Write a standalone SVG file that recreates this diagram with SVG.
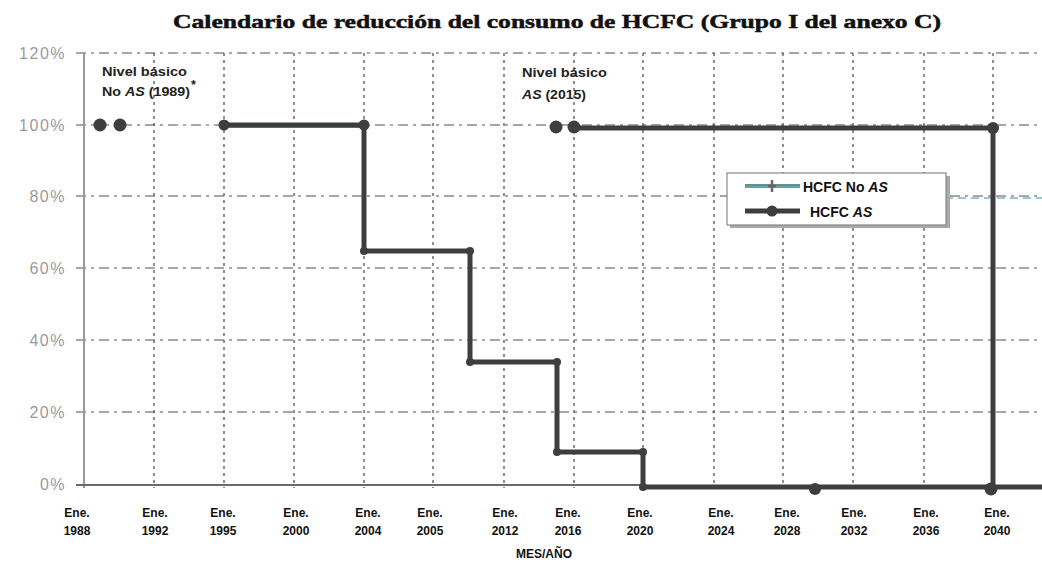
<svg xmlns="http://www.w3.org/2000/svg" width="1042" height="562" viewBox="0 0 1042 562">
<style>
.title{font-family:"Liberation Serif","Times New Roman",serif;font-weight:bold;font-size:19px;fill:#111;stroke:#111;stroke-width:0.5}
.ylab{font-family:"Liberation Sans",Arial,sans-serif;font-size:16px;fill:#9a9a9a;text-anchor:end;letter-spacing:1.5px}
.xlab{font-family:"Liberation Sans",Arial,sans-serif;font-weight:bold;font-size:12px;fill:#111;text-anchor:middle}
.note{font-family:"Liberation Sans",Arial,sans-serif;font-weight:bold;font-size:12.5px;fill:#222}
.leg{font-family:"Liberation Sans",Arial,sans-serif;font-weight:bold;font-size:14px;fill:#111}
.hgrid{stroke:#8a8a8a;stroke-width:1.5;stroke-dasharray:10 5 3 5;fill:none}
.vgrid{stroke:#555;stroke-width:1.3;stroke-dasharray:3 4;fill:none}
.series{stroke:#3e3e3e;stroke-width:5;fill:none;stroke-linejoin:miter}
.mk{fill:#3e3e3e}
</style>
<rect width="1042" height="562" fill="#ffffff"/>
<g id="title"><text class="title" x="557" y="28" text-anchor="middle" textLength="768" lengthAdjust="spacingAndGlyphs">Calendario de reducción del consumo de HCFC (Grupo I del anexo C)</text></g>
<g id="grid">
<line class="hgrid" x1="76" y1="53" x2="1042" y2="53"/>
<line class="hgrid" x1="76" y1="125" x2="1042" y2="125"/>
<line class="hgrid" x1="76" y1="196" x2="1042" y2="196"/>
<line class="hgrid" x1="76" y1="268" x2="1042" y2="268"/>
<line class="hgrid" x1="76" y1="340" x2="1042" y2="340"/>
<line class="hgrid" x1="76" y1="412" x2="1042" y2="412"/>
<line x1="945" y1="198" x2="1042" y2="198" stroke="#7ab6cf" stroke-width="1.5" stroke-dasharray="8 5"/>
<line class="vgrid" x1="154" y1="53" x2="154" y2="488"/>
<line class="vgrid" x1="224" y1="53" x2="224" y2="488"/>
<line class="vgrid" x1="294" y1="53" x2="294" y2="488"/>
<line class="vgrid" x1="364" y1="53" x2="364" y2="488"/>
<line class="vgrid" x1="433" y1="53" x2="433" y2="488"/>
<line class="vgrid" x1="504" y1="53" x2="504" y2="488"/>
<line class="vgrid" x1="574" y1="53" x2="574" y2="488"/>
<line class="vgrid" x1="643" y1="53" x2="643" y2="488"/>
<line class="vgrid" x1="714" y1="53" x2="714" y2="488"/>
<line class="vgrid" x1="783" y1="53" x2="783" y2="488"/>
<line class="vgrid" x1="853" y1="53" x2="853" y2="488"/>
<line class="vgrid" x1="924" y1="53" x2="924" y2="488"/>
<line class="vgrid" x1="993" y1="53" x2="993" y2="488"/>
<line x1="84" y1="53" x2="84" y2="488" stroke="#999" stroke-width="2"/>
<line x1="76" y1="485" x2="643" y2="485" stroke="#6a6a6a" stroke-width="2"/>
</g>
<g id="y-labels">
<text class="ylab" x="66" y="59">120%</text>
<text class="ylab" x="66" y="131">100%</text>
<text class="ylab" x="66" y="202">80%</text>
<text class="ylab" x="66" y="274">60%</text>
<text class="ylab" x="66" y="346">40%</text>
<text class="ylab" x="66" y="418">20%</text>
<text class="ylab" x="66" y="490">0%</text>
</g>
<g id="x-labels">
<text class="xlab" x="77" y="517">Ene.</text><text class="xlab" x="77" y="535">1988</text>
<text class="xlab" x="155" y="517">Ene.</text><text class="xlab" x="155" y="535">1992</text>
<text class="xlab" x="223" y="517">Ene.</text><text class="xlab" x="223" y="535">1995</text>
<text class="xlab" x="296" y="517">Ene.</text><text class="xlab" x="296" y="535">2000</text>
<text class="xlab" x="368" y="517">Ene.</text><text class="xlab" x="368" y="535">2004</text>
<text class="xlab" x="430" y="517">Ene.</text><text class="xlab" x="430" y="535">2005</text>
<text class="xlab" x="505" y="517">Ene.</text><text class="xlab" x="505" y="535">2012</text>
<text class="xlab" x="568" y="517">Ene.</text><text class="xlab" x="568" y="535">2016</text>
<text class="xlab" x="640" y="517">Ene.</text><text class="xlab" x="640" y="535">2020</text>
<text class="xlab" x="721" y="517">Ene.</text><text class="xlab" x="721" y="535">2024</text>
<text class="xlab" x="787" y="517">Ene.</text><text class="xlab" x="787" y="535">2028</text>
<text class="xlab" x="854" y="517">Ene.</text><text class="xlab" x="854" y="535">2032</text>
<text class="xlab" x="926" y="517">Ene.</text><text class="xlab" x="926" y="535">2036</text>
<text class="xlab" x="997" y="517">Ene.</text><text class="xlab" x="997" y="535">2040</text>
<text class="xlab" x="544" y="558">MES/AÑO</text>
</g>
<g id="series-no-as">
<line x1="224" y1="127" x2="364" y2="127" stroke="#5aa9a9" stroke-width="2"/>
<path class="series" d="M224,125 H364 V251 H470 V362 H557 V452 H643 V487 H1042"/>
<circle class="mk" cx="100" cy="125" r="6.5"/>
<circle class="mk" cx="120" cy="125" r="6.5"/>
<circle class="mk" cx="224" cy="125" r="5.5"/>
<circle class="mk" cx="364" cy="125" r="5.5"/>
<circle class="mk" cx="364" cy="251" r="4"/>
<circle class="mk" cx="470" cy="251" r="4"/>
<circle class="mk" cx="470" cy="362" r="4"/>
<circle class="mk" cx="557" cy="362" r="4"/>
<circle class="mk" cx="557" cy="452" r="4"/>
<circle class="mk" cx="643" cy="452" r="4"/>
<circle class="mk" cx="643" cy="487" r="4"/>
<circle class="mk" cx="815" cy="489" r="6"/>
</g>
<g id="series-as">
<path class="series" d="M573,128 H993 V489"/>
<circle class="mk" cx="556" cy="127" r="6.5"/>
<circle class="mk" cx="574" cy="127" r="6.5"/>
<circle class="mk" cx="993" cy="128" r="6"/>
<circle class="mk" cx="991" cy="489" r="6.5"/>
</g>
<g id="note-1989">
<text class="note" x="102" y="76" textLength="85" lengthAdjust="spacingAndGlyphs">Nivel básico</text>
<text class="note" x="102" y="96" textLength="88" lengthAdjust="spacingAndGlyphs">No <tspan font-style="italic">AS</tspan> (1989)</text>
<text class="note" x="191" y="89" font-size="14">*</text>
</g>
<g id="note-2015">
<text class="note" x="522" y="77" textLength="85" lengthAdjust="spacingAndGlyphs">Nivel básico</text>
<text class="note" x="522" y="99" textLength="64" lengthAdjust="spacingAndGlyphs"><tspan font-style="italic">AS</tspan> (2015)</text>
</g>
<g id="legend">
<rect x="730" y="176" width="220" height="52" fill="#aaa"/>
<rect x="727" y="173" width="219" height="52" fill="#fff" stroke="#888" stroke-width="1.2"/>
<line x1="745" y1="186" x2="800" y2="186" stroke="#5aa9a9" stroke-width="4"/>
<line x1="745" y1="185" x2="800" y2="185" stroke="#777" stroke-width="1"/>
<path d="M772,180 V192 M768,186 H776" stroke="#666" stroke-width="2.5"/>
<text class="leg" x="803" y="192">HCFC No <tspan font-style="italic">AS</tspan></text>
<line x1="745" y1="211" x2="800" y2="211" stroke="#3e3e3e" stroke-width="5"/>
<circle class="mk" cx="772" cy="211" r="5.5"/>
<text class="leg" x="810" y="217">HCFC <tspan font-style="italic">AS</tspan></text>
</g>
</svg>
